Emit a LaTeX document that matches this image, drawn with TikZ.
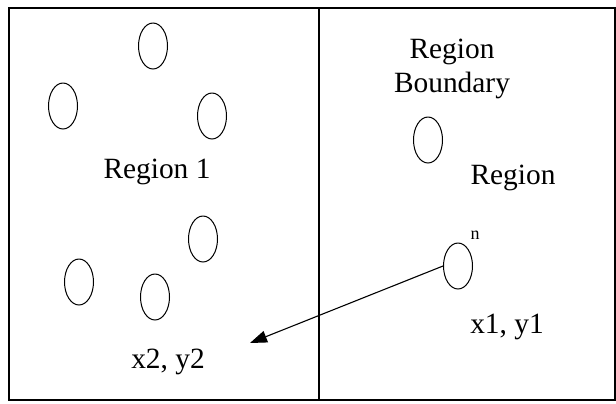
\documentclass[tikz,border=0pt]{standalone}
\usepackage{fontspec}
\setmainfont{Liberation Serif}
\usetikzlibrary{arrows.meta,shapes.geometric}

\begin{document}
\begin{tikzpicture}[
  x=0.5pt, y=-0.5pt,
  every node/.style={font=\fontsize{14.7}{17}\selectfont, inner sep=0pt},
  frame/.style={line width=1.1pt},
  cell/.style={ellipse, draw, line width=0.5pt, minimum width=14.5pt,
    minimum height=23pt},
  hop/.style={-{Triangle[length=8.5pt,width=6pt]}, line width=0.55pt}
]
\useasboundingbox (0,0) rectangle (616,403);

% Outer frame and the boundary between the regions.
\draw[frame] (9,8) rectangle (615,400);
\draw[frame] (319,8) -- (319,400);

% Region 1 and its cells.
\node[cell] (c1) at (153,46) {};
\node[cell] (c2) at (63,106) {};
\node[cell] (c3) at (212,116) {};
\node[cell] (c4) at (203,239) {};
\node[cell] (c5) at (79,282) {};
\node[cell] (c6) at (155,297) {};
\node (reg1) at (157,172) {Region 1};
\node (dest) at (168,362) {x2, y2};

% Right-hand region.
\node[align=center] (bound) at (452,69) {Region\\Boundary};
\node[cell] (c7) at (428,140) {};
\node (regn) at (513,178) {Region};
\node[cell] (c8) at (458,266) {};
\node[font=\fontsize{9}{10}\selectfont] (sup) at (475,235) {n};
\node (src) at (507,327) {x1, y1};

% Hand-over to region 1.
\coordinate (tip) at (250,343);
\draw[hop] (c8.west) -- (tip);
\end{tikzpicture}
\end{document}
